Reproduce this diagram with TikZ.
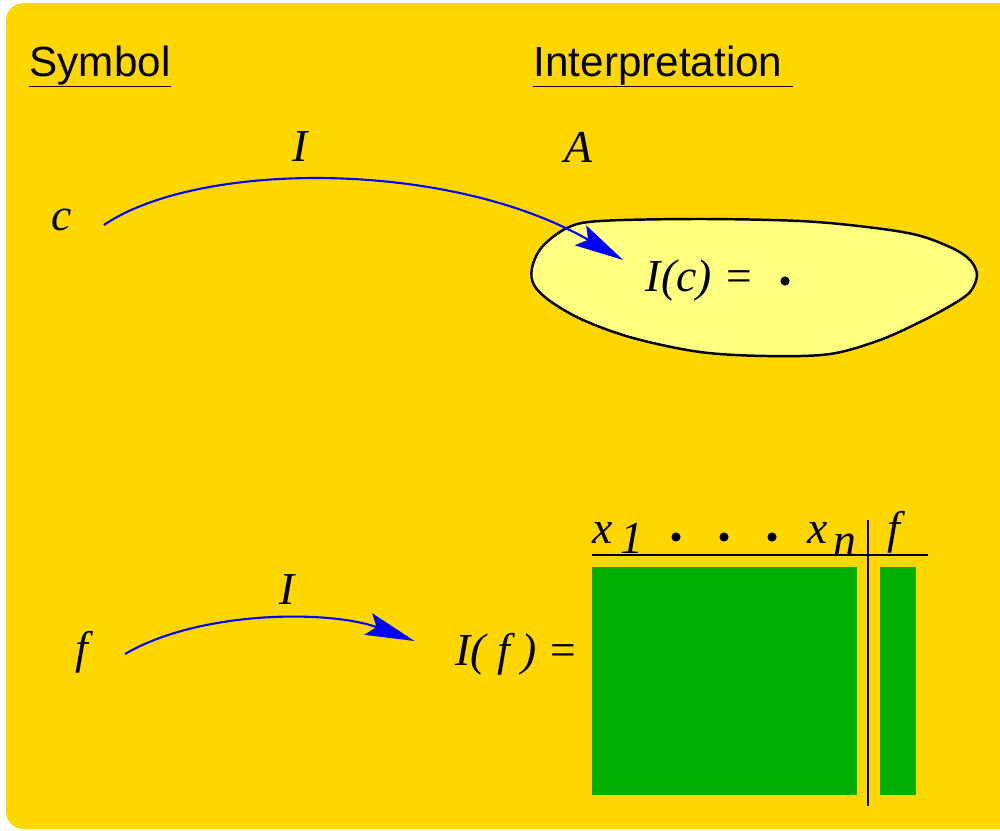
\documentclass[tikz,border=0pt]{standalone}
\usepackage{fontspec}
\setmainfont{Liberation Serif}
\setsansfont{Liberation Sans}
\usetikzlibrary{arrows.meta}
\definecolor{panelgold}{HTML}{FFD700}
\definecolor{blobyellow}{HTML}{FFFF80}
\definecolor{tablegreen}{HTML}{00B000}

\begin{document}
\begin{tikzpicture}[
  x=0.01cm,
  y=-0.01cm,
  every node/.style={inner sep=0pt},
  heading/.style={font=\sffamily\fontsize{12}{14}\selectfont, anchor=base west},
  sym/.style={font=\itshape\fontsize{13}{15}\selectfont},
  mapsto/.style={blue, line width=0.6pt, -{Stealth[length=14pt, width=6.5pt, inset=2.5pt]}},
  rule/.style={line width=0.6pt}
]
  % Coordinate system: pixels of the slide, y pointing down.
  \useasboundingbox (0,0) rectangle (1000,830);
  \fill[panelgold, rounded corners=5pt] (6,3) rectangle (1030,829);

  % Column headings.
  \node[heading] (symbol) at (29,76) {Symbol};
  \node[heading] (interp) at (533,76) {Interpretation};
  \draw[line width=0.5pt] ([yshift=-3pt]symbol.base west) -- ([yshift=-3pt]symbol.base east);
  \draw[line width=0.5pt] ([yshift=-3pt]interp.base west) -- ([shift={(2.8pt,-3pt)}]interp.base east);

  % Constant symbol.
  \draw[line width=0.7pt, fill=blobyellow] plot[smooth cycle, tension=0.55] coordinates {
    (532,268) (542,247) (567,228) (600,221) (700,219) (800,221) (867,227)
    (917,235) (952,248) (970,260) (977,275) (970,292) (950,306) (920,322)
    (880,340) (830,354) (767,356) (700,352) (633,338) (583,320) (550,301) (534,285)};
  \node[sym] (labelIc) at (300,147) {I};
  \node[sym] (domain) at (578,147) {A};
  \node[sym] (c) at (62,220) {c};
  \node[sym] (Ic) at (700,280) {I(c) =};
  \fill (785,281) circle (1.3pt);
  \draw[mapsto] ([shift={(31,5)}]c.east) .. controls (200,160) and (450,160) .. ([shift={(-22,-20)}]Ic.west);

  % Function symbol.
  \node[sym] (labelIf) at (287,590) {I};
  \node[sym] (f) at (82,652) {f};
  \node[sym] (If) at (517,654) {I( f ) =};
  \draw[mapsto] ([shift={(36,2)}]f.east) .. controls (200,610) and (330,610) .. ([shift={(-40,-13)}]If.west);

  % Function table.
  \node[sym, anchor=base west] (x1) at (592,543) {x\kern2pt\raisebox{-3pt}{1}};
  \foreach \xd in {676,724,772} {
    \fill (\xd,537) circle (1.3pt);
  }
  \node[sym, anchor=base west] (xn) at (807,543) {x\kern1.5pt\raisebox{-3.5pt}{n}};
  \node[sym, anchor=base west] (fcol) at (887,543) {f};
  \draw[rule] (592,555) -- (928,555);
  \draw[rule] (868,520) -- (868,806);
  \fill[tablegreen] (592,567) rectangle (857,795);
  \fill[tablegreen] (880,567) rectangle (916,795);
\end{tikzpicture}
\end{document}
